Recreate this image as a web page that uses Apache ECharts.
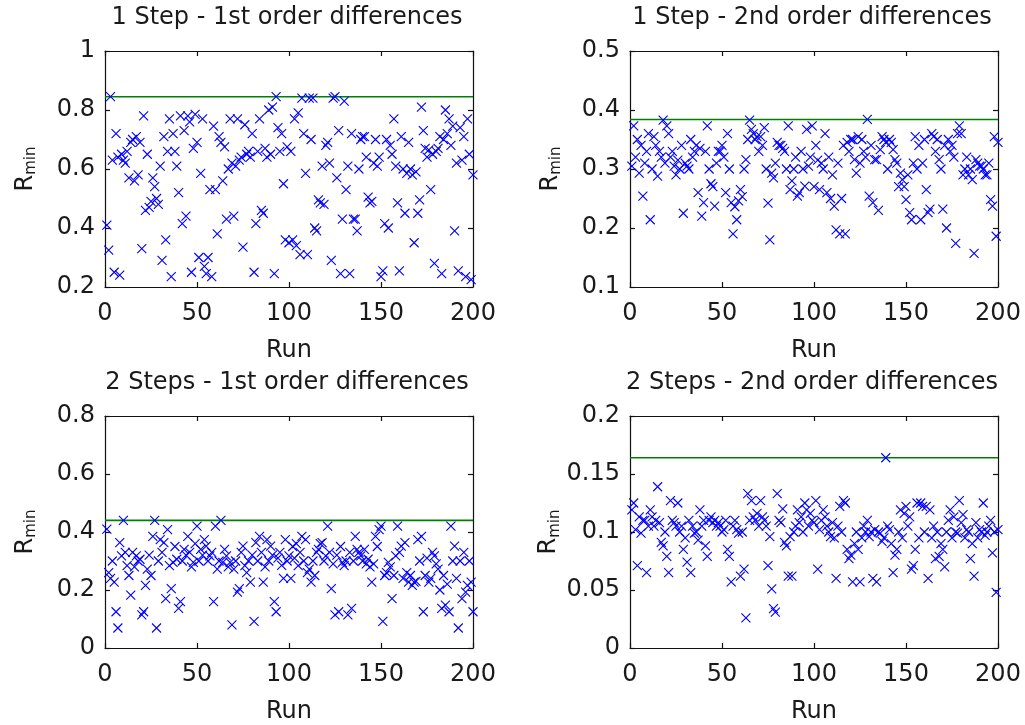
<!DOCTYPE html>
<html>
<head>
<meta charset="utf-8">
<script src="https://cdn.jsdelivr.net/npm/echarts@6/dist/echarts.min.js"></script>
<style>
  html, body { margin: 0; padding: 0; background: #ffffff; }
  #chart { width: 1025px; height: 725px; }
</style>
</head>
<body>
<div id="chart"></div>
<script>
// Panel titles
const panelTitles = [
  '1 Step - 1st order differences',
  '1 Step - 2nd order differences',
  '2 Steps - 1st order differences',
  '2 Steps - 2nd order differences'
];

// x axis ticks (run number)
const runTicks = [0, 50, 100, 150, 200];

// y axis ranges: [min, max, step]
const yRanges = [
  [0.2, 1, 0.2],
  [0.1, 0.5, 0.1],
  [0, 0.8, 0.2],
  [0, 0.2, 0.05]
];

// R_min per run (runs 1..200)
const step1Diff1 = [
  0.41, 0.325, 0.845, 0.63, 0.25, 0.72, 0.64, 0.24, 0.65, 0.63,
  0.62, 0.66, 0.57, 0.69, 0.70, 0.56, 0.71, 0.58, 0.69, 0.33,
  0.78, 0.46, 0.65, 0.47, 0.49, 0.57, 0.54, 0.50, 0.48, 0.61,
  0.29, 0.71, 0.36, 0.66, 0.77, 0.235, 0.72, 0.66, 0.61, 0.52,
  0.78, 0.415, 0.73, 0.44, 0.78, 0.76, 0.25, 0.67, 0.785, 0.69,
  0.30, 0.585, 0.77, 0.27, 0.245, 0.30, 0.53, 0.235, 0.745, 0.53,
  0.38, 0.71, 0.69, 0.56, 0.675, 0.43, 0.60, 0.77, 0.62, 0.44,
  0.61, 0.77, 0.63, 0.64, 0.335, 0.75, 0.65, 0.66, 0.64, 0.72,
  0.25, 0.415, 0.66, 0.77, 0.46, 0.45, 0.67, 0.64, 0.80, 0.65,
  0.81, 0.245, 0.845, 0.74, 0.66, 0.72, 0.55, 0.36, 0.675, 0.35,
  0.66, 0.36, 0.77, 0.34, 0.79, 0.31, 0.84, 0.72, 0.585, 0.31,
  0.84, 0.70, 0.84, 0.40, 0.39, 0.495, 0.485, 0.61, 0.48, 0.68,
  0.69, 0.62, 0.29, 0.84, 0.845, 0.57, 0.73, 0.245, 0.43, 0.83,
  0.53, 0.61, 0.245, 0.72, 0.43, 0.43, 0.39, 0.60, 0.70, 0.71,
  0.71, 0.64, 0.505, 0.485, 0.49, 0.62, 0.70, 0.61, 0.64, 0.235,
  0.255, 0.415, 0.70, 0.40, 0.68, 0.65, 0.77, 0.61, 0.485, 0.255,
  0.71, 0.60, 0.45, 0.585, 0.69, 0.60, 0.58, 0.35, 0.59, 0.45,
  0.495, 0.81, 0.73, 0.67, 0.64, 0.665, 0.53, 0.65, 0.28, 0.66,
  0.67, 0.71, 0.245, 0.70, 0.80, 0.72, 0.77, 0.68, 0.745, 0.39,
  0.62, 0.255, 0.74, 0.63, 0.71, 0.235, 0.77, 0.65, 0.225, 0.58
];

const step1Diff2 = [
  0.305, 0.373, 0.32, 0.35, 0.293, 0.34, 0.254, 0.31, 0.33, 0.36,
  0.214, 0.30, 0.355, 0.34, 0.288, 0.33, 0.32, 0.383, 0.31, 0.373,
  0.36, 0.32, 0.33, 0.305, 0.29, 0.315, 0.30, 0.34, 0.225, 0.31,
  0.305, 0.30, 0.35, 0.32, 0.33, 0.34, 0.26, 0.335, 0.22, 0.243,
  0.33, 0.373, 0.30, 0.275, 0.27, 0.237, 0.31, 0.33, 0.33, 0.34,
  0.32, 0.26, 0.36, 0.30, 0.243, 0.19, 0.236, 0.214, 0.246, 0.265,
  0.253, 0.30, 0.316, 0.35, 0.383, 0.367, 0.36, 0.35, 0.355, 0.33,
  0.355, 0.34, 0.37, 0.30, 0.242, 0.18, 0.293, 0.285, 0.31, 0.345,
  0.34, 0.34, 0.335, 0.33, 0.30, 0.373, 0.265, 0.28, 0.30, 0.32,
  0.254, 0.26, 0.33, 0.30, 0.271, 0.367, 0.305, 0.32, 0.373, 0.27,
  0.34, 0.315, 0.265, 0.31, 0.30, 0.36, 0.26, 0.32, 0.25, 0.29,
  0.237, 0.197, 0.31, 0.19, 0.25, 0.34, 0.19, 0.345, 0.33, 0.35,
  0.35, 0.316, 0.293, 0.355, 0.31, 0.35, 0.33, 0.32, 0.384, 0.254,
  0.34, 0.243, 0.316, 0.316, 0.23, 0.333, 0.355, 0.35, 0.345, 0.30,
  0.35, 0.345, 0.333, 0.316, 0.31, 0.27, 0.293, 0.282, 0.27, 0.248,
  0.29, 0.226, 0.214, 0.31, 0.355, 0.30, 0.34, 0.214, 0.31, 0.35,
  0.265, 0.226, 0.232, 0.36, 0.355, 0.33, 0.35, 0.316, 0.30, 0.232,
  0.34, 0.20, 0.35, 0.33, 0.34, 0.32, 0.174, 0.36, 0.373, 0.36,
  0.29, 0.30, 0.32, 0.29, 0.30, 0.282, 0.157, 0.316, 0.31, 0.305,
  0.305, 0.30, 0.29, 0.29, 0.31, 0.248, 0.237, 0.355, 0.186, 0.345
];

const step2Diff1 = [
  0.41, 0.26, 0.24, 0.30, 0.227, 0.125, 0.069, 0.363, 0.318, 0.44,
  0.33, 0.284, 0.25, 0.182, 0.33, 0.28, 0.318, 0.30, 0.306, 0.114,
  0.125, 0.216, 0.272, 0.32, 0.25, 0.385, 0.44, 0.069, 0.30, 0.374,
  0.33, 0.363, 0.17, 0.408, 0.284, 0.205, 0.295, 0.35, 0.306, 0.137,
  0.16, 0.30, 0.34, 0.32, 0.385, 0.33, 0.28, 0.295, 0.36, 0.42,
  0.30, 0.34, 0.32, 0.374, 0.351, 0.30, 0.318, 0.33, 0.16, 0.42,
  0.272, 0.30, 0.44, 0.295, 0.34, 0.318, 0.28, 0.295, 0.08, 0.272,
  0.30, 0.193, 0.205, 0.33, 0.351, 0.284, 0.26, 0.30, 0.227, 0.32,
  0.092, 0.363, 0.30, 0.385, 0.33, 0.227, 0.28, 0.374, 0.30, 0.351,
  0.32, 0.16, 0.125, 0.31, 0.33, 0.285, 0.24, 0.374, 0.30, 0.318,
  0.24, 0.35, 0.31, 0.36, 0.284, 0.33, 0.385, 0.30, 0.374, 0.26,
  0.272, 0.227, 0.30, 0.25, 0.33, 0.34, 0.36, 0.363, 0.30, 0.318,
  0.42, 0.33, 0.205, 0.29, 0.114, 0.32, 0.125, 0.35, 0.295, 0.284,
  0.30, 0.114, 0.33, 0.137, 0.30, 0.385, 0.34, 0.33, 0.318, 0.30,
  0.34, 0.29, 0.306, 0.28, 0.227, 0.29, 0.385, 0.35, 0.408, 0.42,
  0.092, 0.25, 0.26, 0.295, 0.28, 0.17, 0.25, 0.318, 0.42, 0.33,
  0.351, 0.24, 0.363, 0.26, 0.227, 0.25, 0.216, 0.227, 0.23, 0.374,
  0.30, 0.385, 0.125, 0.25, 0.31, 0.227, 0.24, 0.33, 0.318, 0.29,
  0.272, 0.20, 0.137, 0.25, 0.148, 0.22, 0.125, 0.42, 0.30, 0.351,
  0.24, 0.069, 0.30, 0.17, 0.33, 0.193, 0.216, 0.30, 0.227, 0.125
];

const step2Diff2 = [
  0.119, 0.125, 0.102, 0.071, 0.113, 0.099, 0.11, 0.11, 0.065, 0.105,
  0.119, 0.113, 0.105, 0.11, 0.139, 0.108, 0.091, 0.088, 0.10, 0.079,
  0.065, 0.127, 0.11, 0.108, 0.105, 0.125, 0.10, 0.105, 0.085, 0.095,
  0.074, 0.11, 0.065, 0.105, 0.099, 0.10, 0.093, 0.119, 0.105, 0.11,
  0.088, 0.079, 0.11, 0.113, 0.108, 0.11, 0.105, 0.108, 0.105, 0.10,
  0.102, 0.11, 0.085, 0.079, 0.057, 0.105, 0.11, 0.102, 0.099, 0.062,
  0.10, 0.068, 0.026, 0.133, 0.11, 0.127, 0.113, 0.11, 0.116, 0.105,
  0.127, 0.113, 0.11, 0.105, 0.071, 0.096, 0.051, 0.034, 0.031, 0.133,
  0.11, 0.108, 0.12, 0.091, 0.088, 0.062, 0.096, 0.062, 0.10, 0.105,
  0.119, 0.108, 0.113, 0.10, 0.125, 0.119, 0.105, 0.116, 0.11, 0.108,
  0.127, 0.068, 0.102, 0.11, 0.119, 0.113, 0.105, 0.10, 0.096, 0.108,
  0.095, 0.06, 0.105, 0.122, 0.10, 0.127, 0.125, 0.085, 0.077, 0.08,
  0.057, 0.09, 0.10, 0.085, 0.057, 0.095, 0.105, 0.10, 0.11, 0.096,
  0.10, 0.06, 0.102, 0.057, 0.10, 0.099, 0.092, 0.095, 0.164, 0.105,
  0.102, 0.09, 0.065, 0.08, 0.085, 0.10, 0.119, 0.095, 0.116, 0.122,
  0.105, 0.113, 0.068, 0.071, 0.085, 0.125, 0.095, 0.125, 0.122, 0.10,
  0.122, 0.06, 0.119, 0.095, 0.105, 0.077, 0.10, 0.079, 0.09, 0.085,
  0.07, 0.10, 0.11, 0.119, 0.095, 0.113, 0.10, 0.099, 0.127, 0.108,
  0.115, 0.095, 0.102, 0.10, 0.077, 0.09, 0.062, 0.108, 0.095, 0.102,
  0.10, 0.125, 0.097, 0.10, 0.105, 0.11, 0.082, 0.10, 0.048, 0.102
];

const panelData = [step1Diff1, step1Diff2, step2Diff1, step2Diff2];

// Layout of the four panels (pixels)
const panelBoxes = [
  { left: 105, top: 51, width: 368, height: 236 },
  { left: 630, top: 51, width: 368, height: 236 },
  { left: 105, top: 416, width: 368, height: 236 },
  { left: 630, top: 416, width: 368, height: 236 }
];

const FONT = 'DejaVu Sans';
const TEXT = '#1a1a1a';
const crossPath = 'path://M0,0L10,10M10,0L0,10';

const grids = [], xAxes = [], yAxes = [], series = [], titles = [];

panelBoxes.forEach((box, i) => {
  grids.push(box);
  titles.push({
    text: panelTitles[i],
    left: box.left + box.width / 2 - 2,
    top: box.top - 45,
    textAlign: 'center',
    padding: 0,
    textStyle: { fontFamily: FONT, fontSize: 24, fontWeight: 'normal', color: TEXT }
  });

  // MATLAB style box: axis lines on all four sides, ticks pointing in
  const axisLine = { show: true, onZero: false, lineStyle: { color: '#111', width: 1.2 } };
  const tick = { show: true, inside: true, length: 5, lineStyle: { color: '#111', width: 1.2 } };

  xAxes.push({
    gridIndex: i, type: 'value', position: 'bottom',
    min: runTicks[0], max: runTicks[runTicks.length - 1], interval: runTicks[1] - runTicks[0],
    axisLine, axisTick: tick, splitLine: { show: false },
    axisLabel: { fontFamily: FONT, fontSize: 24, color: TEXT, margin: 15 },
    name: 'Run', nameLocation: 'middle', nameGap: 52,
    nameTextStyle: { fontFamily: FONT, fontSize: 24, color: TEXT }
  });
  xAxes.push({
    gridIndex: i, type: 'value', position: 'top',
    min: runTicks[0], max: runTicks[runTicks.length - 1], interval: runTicks[1] - runTicks[0],
    axisLine, axisTick: tick, splitLine: { show: false }, axisLabel: { show: false }
  });

  const [yMin, yMax, yStep] = yRanges[i];
  yAxes.push({
    gridIndex: i, type: 'value', position: 'left',
    min: yMin, max: yMax, interval: yStep,
    axisLine, axisTick: tick, splitLine: { show: false },
    axisLabel: { fontFamily: FONT, fontSize: 24, color: TEXT, margin: 10 },
    name: '{r|R}{s|min}', nameLocation: 'middle', nameRotate: 90, nameGap: 66,
    nameTextStyle: {
      fontFamily: FONT, color: TEXT,
      rich: {
        r: { fontFamily: FONT, fontSize: 24, color: TEXT },
        s: { fontFamily: FONT, fontSize: 15, color: TEXT, padding: [12, 0, 0, 0] }
      }
    }
  });
  yAxes.push({
    gridIndex: i, type: 'value', position: 'right',
    min: yMin, max: yMax, interval: yStep,
    axisLine, axisTick: tick, splitLine: { show: false }, axisLabel: { show: false }
  });

  const values = panelData[i];
  const pts = values.map((v, k) => [k + 1, v]);
  const best = Math.max(...values);

  // green line at the best (highest) value of the panel
  series.push({
    type: 'line', xAxisIndex: i * 2, yAxisIndex: i * 2,
    data: [[runTicks[0], best], [runTicks[runTicks.length - 1], best]],
    showSymbol: false, silent: true, z: 2,
    lineStyle: { color: '#008000', width: 1.6 }
  });
  series.push({
    type: 'scatter', xAxisIndex: i * 2, yAxisIndex: i * 2,
    data: pts, symbol: crossPath, symbolSize: 9, z: 3,
    itemStyle: { color: 'rgba(0,0,0,0)', borderColor: '#0000ff', borderWidth: 1.1, opacity: 1 }
  });
});

const chart = echarts.init(document.getElementById('chart'));
chart.setOption({
  backgroundColor: '#ffffff',
  animation: false,
  title: titles,
  grid: grids,
  xAxis: xAxes,
  yAxis: yAxes,
  series: series
});
</script>
</body>
</html>
